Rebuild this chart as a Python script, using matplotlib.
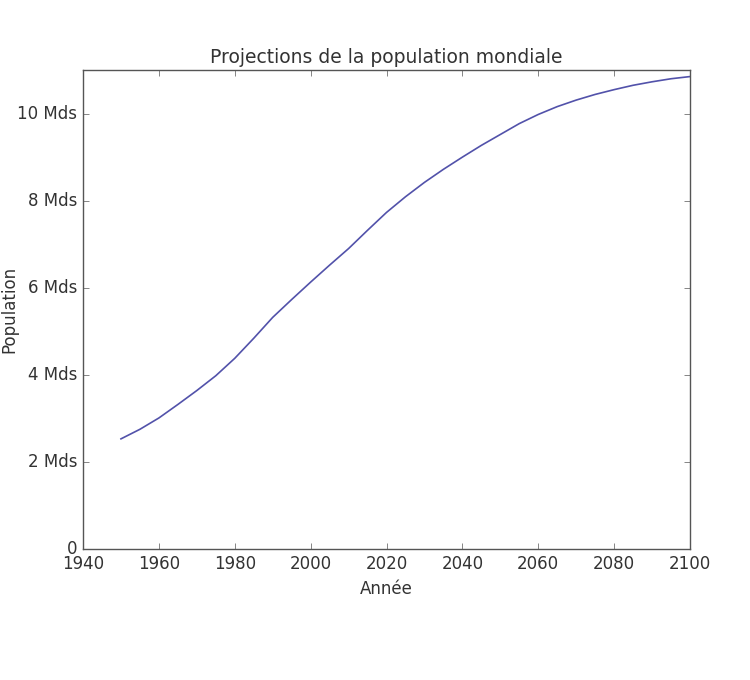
import matplotlib
matplotlib.use("Agg")
import matplotlib.pyplot as plt
from matplotlib.ticker import FuncFormatter

# population mondiale (milliards)
annees = [1950, 1955, 1960, 1965, 1970, 1975, 1980, 1985, 1990, 1995,
          2000, 2005, 2010, 2015, 2020, 2025, 2030, 2035, 2040, 2045,
          2050, 2055, 2060, 2065, 2070, 2075, 2080, 2085, 2090, 2095, 2100]
population = [2.53, 2.75, 3.01, 3.32, 3.64, 3.98, 4.38, 4.84, 5.32, 5.73,
              6.13, 6.52, 6.90, 7.32, 7.73, 8.09, 8.42, 8.72, 9.00, 9.27,
              9.52, 9.77, 9.98, 10.16, 10.31, 10.44, 10.55, 10.65, 10.73, 10.80, 10.85]

plt.style.use("classic")
txt = "#333333"
plt.rcParams["font.family"] = "DejaVu Sans"
plt.rcParams["text.color"] = txt
plt.rcParams["axes.labelcolor"] = txt
plt.rcParams["xtick.color"] = "#555555"
plt.rcParams["ytick.color"] = "#555555"
plt.rcParams["xtick.labelcolor"] = txt
plt.rcParams["ytick.labelcolor"] = txt

fig = plt.figure(figsize=(7.5, 6.8), dpi=100, facecolor="white")
ax = fig.add_axes([0.1107, 0.1926, 0.8093, 0.7044])
ax.set_facecolor("white")
for s in ax.spines.values():
    s.set_color("#555555")

ax.plot(annees, population, color="#5252aa", linewidth=1.2)

ax.set_xlim(1940, 2100)
ax.set_ylim(0, 11)
ax.set_xticks(range(1940, 2101, 20))
ax.set_yticks([0, 2, 4, 6, 8, 10])
ax.yaxis.set_major_formatter(FuncFormatter(lambda v, p: "0" if v == 0 else f"{v:.0f} Mds"))
ax.tick_params(labelsize=12)

ax.set_title("Projections de la population mondiale", fontsize=13.5)
ax.set_xlabel("Année", fontsize=12)
ax.set_ylabel("Population", fontsize=12)
ax.yaxis.set_label_coords(-0.107, 0.5)

fig.savefig("out.png", dpi=100, facecolor="white")
